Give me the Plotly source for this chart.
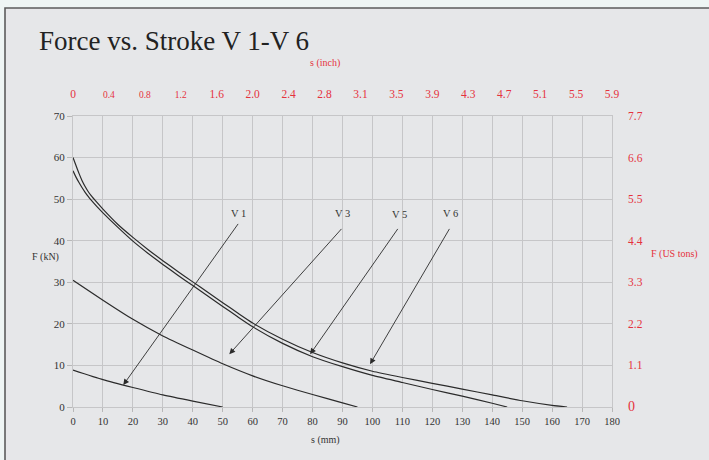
import plotly.graph_objects as go
import numpy as np

# ---- data ----
v1_s = [0, 10, 20, 30, 40, 50]
v1_f = [8.9, 6.6, 4.7, 2.9, 1.4, 0]

v3_s = [0, 10, 20, 30, 40, 50, 60, 70, 80, 90, 95]
v3_f = [30.5, 25.7, 21.1, 17.1, 13.7, 10.4, 7.5, 5.1, 3.0, 1.0, 0]

v5_s = [0, 1, 2, 3, 4, 5, 6, 8, 10, 15, 20, 25, 30, 35, 40, 45, 50, 55, 60, 70, 80, 90, 100, 110, 120, 130, 140, 145]
v5_f = [56.8, 55.3, 54.0, 52.8, 51.7, 50.7, 49.8, 48.2, 46.7, 43.2, 39.9, 37.0, 34.3, 31.7, 29.2, 26.7, 24.2, 21.7, 19.3, 15.3, 12.1, 9.7, 7.6, 5.9, 4.2, 2.6, 0.9, 0]

v6_s = [0, 1, 2, 3, 4, 5, 6, 8, 10, 15, 20, 25, 30, 35, 40, 45, 50, 55, 60, 70, 80, 90, 100, 110, 120, 130, 140, 150, 160, 165]
v6_f = [60, 58.1, 56.2, 54.5, 53.1, 51.9, 50.9, 49.2, 47.6, 43.9, 40.8, 37.9, 35.2, 32.6, 30.1, 27.6, 25.1, 22.6, 20.2, 16.3, 13.1, 10.6, 8.6, 7.1, 5.7, 4.3, 2.9, 1.5, 0.4, 0]

inch_labels = ["0", "0.4", "0.8", "1.2", "1.6", "2.0", "2.4", "2.8", "3.1", "3.5", "3.9", "4.3", "4.7", "5.1", "5.5", "5.9"]
inch_small = ["0.4", "0.8", "1.2"]
ton_labels = ["0", "1.1", "2.2", "3.3", "4.4", "5.5", "6.6", "7.7"]

series_names = ["V 1", "V 3", "V 5", "V 6"]

RED = "#e5323d"
INK = "#2b2b2b"
SERIF = "Liberation Serif"

W, H = 709, 460
L, R, T, B = 73, 97, 116, 53
pw, ph = W - L - R, H - T - B

def px2paper(x, y):
    return (x - L) / pw, (H - B - y) / ph

fig = go.Figure()
for s, f in [(v1_s, v1_f), (v3_s, v3_f), (v5_s, v5_f), (v6_s, v6_f)]:
    fig.add_trace(go.Scatter(x=s, y=f, mode="lines",
                             line=dict(color=INK, width=1.2, shape="spline", smoothing=0.5),
                             hoverinfo="skip", showlegend=False))

# invisible trace for secondary axes
fig.add_trace(go.Scatter(x=[0, 180], y=[0, 70], xaxis="x2", yaxis="y2", mode="markers",
                         marker=dict(opacity=0), hoverinfo="skip", showlegend=False))

top_text = [f'<span style="font-size:9.5px">{t}</span>' if t in inch_small else t for t in inch_labels]
right_text = ['<span style="font-size:14px">0</span>'] + ton_labels[1:]

fig.update_layout(
    width=W, height=H,
    margin=dict(l=L, r=R, t=T, b=B),
    paper_bgcolor="#eef5f4",
    plot_bgcolor="rgba(0,0,0,0)",
    font=dict(family=SERIF, color="#333333", size=11),
    xaxis=dict(range=[0, 180], tickvals=list(range(0, 181, 10)), showgrid=True,
               gridcolor="#c6c6c8", gridwidth=1, zeroline=False,
               showline=True, linecolor="#c6c6c8", mirror=True,
               ticks="outside", ticklen=4, tickcolor="#b8b8b8",
               tickfont=dict(family=SERIF, size=10.5, color="#333333")),
    yaxis=dict(range=[0, 70], tickvals=list(range(0, 71, 10)), showgrid=True,
               gridcolor="#c6c6c8", gridwidth=1, zeroline=False,
               showline=True, linecolor="#c6c6c8", mirror=True,
               ticks="outside", ticklen=5, tickcolor="#b8b8b8",
               tickfont=dict(family=SERIF, size=11, color="#333333")),
    xaxis2=dict(overlaying="x", side="top", range=[0, 180],
                tickvals=list(np.linspace(0, 180, len(inch_labels))), ticktext=top_text,
                showgrid=False, zeroline=False, showline=False, ticks="",
                ticklabelstandoff=15,
                tickfont=dict(family=SERIF, size=11.5, color=RED)),
    yaxis2=dict(overlaying="y", side="right", range=[0, 70],
                tickvals=list(range(0, 71, 10)), ticktext=right_text,
                showgrid=False, zeroline=False, showline=False, ticks="",
                ticklabelstandoff=15,
                tickfont=dict(family=SERIF, size=11.5, color=RED)),
)

# frame panel
x0, y1 = px2paper(5, 8)
x1, y0 = px2paper(715, 466)
fig.add_shape(type="rect", xref="paper", yref="paper", x0=x0, x1=x1, y0=y0, y1=y1,
              line=dict(color="#5c5c5c", width=1.6), fillcolor="#e6e7e9", layer="below")

anns = []
tx, ty = px2paper(37, 41)
anns.append(dict(xref="paper", yref="paper", x=tx, y=ty, xanchor="left", yanchor="middle",
                 text="Force vs. Stroke V 1-V 6", showarrow=False,
                 font=dict(family=SERIF, size=27, color="#222222")))
for txt, (px, py), col in [("s (inch)", (325, 63), RED), ("F (US tons)", (674.5, 254), RED),
                          ("s (mm)", (325.5, 439.5), "#333333"), ("F (kN)", (45, 257), "#333333")]:
    ax_, ay_ = px2paper(px, py)
    anns.append(dict(xref="paper", yref="paper", x=ax_, y=ay_, xanchor="center", yanchor="middle",
                     text=txt, showarrow=False, font=dict(family=SERIF, size=10, color=col)))

# series labels and arrows (data coords)
label_pos = [(55.2, 46.6), (90.1, 46.6), (109.0, 46.4), (126.0, 46.6)]
arrow_tail = [(55.5, 44.4), (90.1, 43.2), (108.8, 43.2), (126.0, 43.2)]
arrow_head = [(16.8, 5.3), (52.2, 12.7), (79.2, 12.7), (99.2, 10.3)]
for name, lp, tl, hd in zip(series_names, label_pos, arrow_tail, arrow_head):
    anns.append(dict(x=lp[0], y=lp[1], xref="x", yref="y", text=name, showarrow=False,
                     font=dict(family=SERIF, size=10.5, color="#333333")))
    anns.append(dict(x=hd[0], y=hd[1], xref="x", yref="y", ax=tl[0], ay=tl[1],
                     axref="x", ayref="y", text="", showarrow=True,
                     arrowhead=2, arrowsize=1.3, arrowwidth=0.9, arrowcolor="#2b2b2b"))
fig.update_layout(annotations=anns)

fig.write_html("out.html", config={"displayModeBar": False},
               post_script="document.body.style.margin='0';")
